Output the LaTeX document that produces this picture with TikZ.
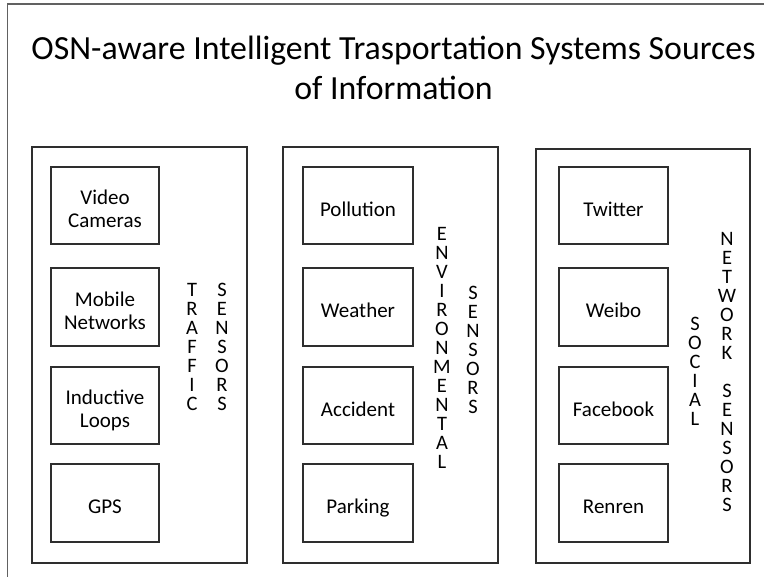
\documentclass[tikz,border=0pt]{standalone}
\usepackage{fontspec}
\setmainfont{Carlito}
\usetikzlibrary{shadows}
\begin{document}
\begin{tikzpicture}[x=1pt,y=-1pt,
  panel/.style={draw=black!82, line width=1.3pt, inner sep=0pt, fill=white,
    drop shadow={shadow xshift=0.8pt, shadow yshift=-1.2pt, fill=black!12, opacity=1}},
  srcbox/.style={draw=black!82, line width=1.3pt, inner sep=0pt, fill=white,
    drop shadow={shadow xshift=0.8pt, shadow yshift=-1.2pt, fill=black!12, opacity=1}},
  srctext/.style={font=\fontsize{21}{23}\selectfont, align=center, text depth=0pt, inner sep=0pt, yshift=-3.5pt},
  vlabel/.style={font=\fontsize{20.5}{19}\selectfont, align=center, text depth=0pt, inner sep=0pt},
  titletext/.style={font=\fontsize{33.8}{40}\selectfont, align=center, text depth=0pt, inner sep=0pt},
  ]
\useasboundingbox (0,0) rectangle (764,577);
\clip (0,0) rectangle (764,577);
\fill[white] (0,0) rectangle (764,577);
% outer frame (cropped at right and bottom)
\draw[draw=black!62, line width=1.5pt] (7.5,4) rectangle (800,620);

% title
\node[titletext] (title) at (393.5,68) {OSN-aware Intelligent Trasportation Systems Sources\\of Information};

% panels
\node[panel, minimum width=215pt, minimum height=416pt] (p1) at (139.5,355) {};
\node[panel, minimum width=215pt, minimum height=416pt] (p2) at (390.5,355) {};
\node[panel, minimum width=214pt, minimum height=414pt] (p3) at (643,356) {};

% panel 1: traffic sensors
\node[srcbox, minimum width=108pt, minimum height=77pt] (b11) at (105,205.5) {};
\node[srcbox, minimum width=108pt, minimum height=78pt] (b12) at (105,307) {};
\node[srcbox, minimum width=108pt, minimum height=77pt] (b13) at (105,405.5) {};
\node[srcbox, minimum width=108pt, minimum height=78pt] (b14) at (105,503) {};
\node[srctext] (t11) at (b11.center) {Video\\Cameras};
\node[srctext] (t12) at (b12.center) {Mobile\\Networks};
\node[srctext] (t13) at (b13.center) {Inductive\\Loops};
\node[srctext] (t14) at (b14.center) {GPS};
\node[vlabel] (l11) at (192,346.5) {T\\R\\A\\F\\F\\I\\C};
\node[vlabel] (l12) at (222,346.5) {S\\E\\N\\S\\O\\R\\S};

% panel 2: environmental sensors
\node[srcbox, minimum width=110pt, minimum height=77pt] (b21) at (358,205.5) {};
\node[srcbox, minimum width=110pt, minimum height=78pt] (b22) at (358,307) {};
\node[srcbox, minimum width=110pt, minimum height=77pt] (b23) at (358,405.5) {};
\node[srcbox, minimum width=110pt, minimum height=78pt] (b24) at (358,503) {};
\node[srctext] (t21) at (b21.center) {Pollution};
\node[srctext] (t22) at (b22.center) {Weather};
\node[srctext] (t23) at (b23.center) {Accident};
\node[srctext] (t24) at (b24.center) {Parking};
\node[vlabel] (l21) at (442,347.5) {E\\N\\V\\I\\R\\O\\N\\M\\E\\N\\T\\A\\L};
\node[vlabel] (l22) at (473,349.5) {S\\E\\N\\S\\O\\R\\S};

% panel 3: social network sensors
\node[srcbox, minimum width=109pt, minimum height=77pt] (b31) at (613.5,205.5) {};
\node[srcbox, minimum width=109pt, minimum height=78pt] (b32) at (613.5,307) {};
\node[srcbox, minimum width=109pt, minimum height=77pt] (b33) at (613.5,405.5) {};
\node[srcbox, minimum width=109pt, minimum height=78pt] (b34) at (613.5,503) {};
\node[srctext] (t31) at (b31.center) {Twitter};
\node[srctext] (t32) at (b32.center) {Weibo};
\node[srctext] (t33) at (b33.center) {Facebook};
\node[srctext] (t34) at (b34.center) {Renren};
\node[vlabel] (l31) at (695,371) {S\\O\\C\\I\\A\\L};
\node[vlabel] (l32) at (727,371.5) {N\\E\\T\\W\\O\\R\\K\\~\\S\\E\\N\\S\\O\\R\\S};
\end{tikzpicture}
\end{document}
